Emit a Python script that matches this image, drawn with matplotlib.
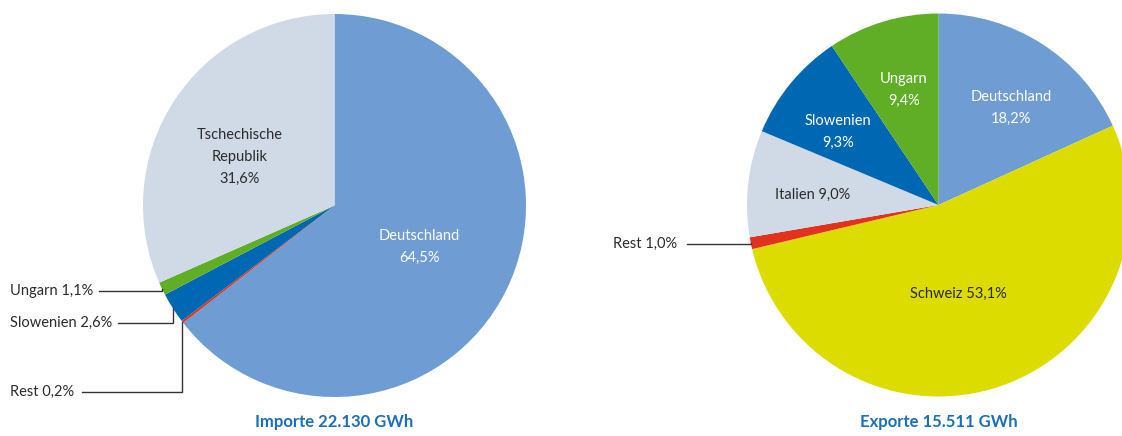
import numpy as np
import matplotlib
matplotlib.use("Agg")
import matplotlib.pyplot as plt

plt.rcParams['font.family'] = ['Lato', 'DejaVu Sans']

# Importe (Anteile in %), im Uhrzeigersinn ab 12 Uhr
imp_labels = ["Deutschland", "Rest", "Slowenien", "Ungarn", "Tschechische Republik"]
imp_values = [64.5, 0.2, 2.6, 1.1, 31.6]
imp_title = "Importe 22.130 GWh"

# Exporte (Anteile in %), im Uhrzeigersinn ab 12 Uhr
exp_labels = ["Deutschland", "Schweiz", "Rest", "Italien", "Slowenien", "Ungarn"]
exp_values = [18.2, 53.1, 1.0, 9.0, 9.3, 9.4]
exp_title = "Exporte 15.511 GWh"

COLORS = {
    "Deutschland": "#6f9dd3",
    "Tschechische Republik": "#d0dae6",
    "Italien": "#d0dae6",
    "Ungarn": "#5fae26",
    "Slowenien": "#0068b3",
    "Rest": "#e2321e",
    "Schweiz": "#dcdc00",
}
DARK = "#2b2b2b"
TITLE_BLUE = "#1a70b8"
FS = 10.5
LS = 1.72

W, H = 1122, 436
R = 191.5
fig = plt.figure(figsize=(W / 100, H / 100), dpi=100)


def fmt(v):
    return f"{v:.1f}".replace(".", ",") + "%"


def make_axes(cx, cy):
    ax = fig.add_axes([(cx - R) / W, (H - cy - R) / H, 2 * R / W, 2 * R / H])
    ax.set_xlim(-1, 1)
    ax.set_ylim(-1, 1)
    ax.axis("off")
    return ax


def px(ax_center, x, y):
    cx, cy = ax_center
    return (x - cx) / R, (cy - y) / R


def draw_pie(ax, labels, values):
    wedges, _ = ax.pie(values, colors=[COLORS[l] for l in labels], startangle=90,
                       counterclock=False, radius=1, center=(0, 0),
                       wedgeprops=dict(linewidth=0))
    ax.set_xlim(-1, 1)
    ax.set_ylim(-1, 1)
    return wedges


def mid_point(w):
    a = np.deg2rad((w.theta1 + w.theta2) / 2)
    return np.cos(a), np.sin(a)


# ---------- Importe ----------
c1 = (334.5, 205.5)
ax1 = make_axes(*c1)
w1 = draw_pie(ax1, imp_labels, imp_values)
wmap1 = dict(zip(imp_labels, w1))
vmap1 = dict(zip(imp_labels, imp_values))

# labels inside the wedges (pixel positions)
inner1 = {"Deutschland": ((419, 247), "white", "Deutschland\n" + fmt(vmap1["Deutschland"])),
          "Tschechische Republik": ((240, 157), DARK,
                                    "Tschechische\nRepublik\n" + fmt(vmap1["Tschechische Republik"]))}
for name, ((x, y), col, txt) in inner1.items():
    ax1.text(*px(c1, x, y), txt, color=col, fontsize=FS, ha="center", va="center",
             linespacing=LS, clip_on=False)

# outside labels with leader lines: (text x, y, line start x)
outer1 = {"Ungarn": (10, 291, 99), "Slowenien": (10, 323, 118), "Rest": (10, 392, 82)}
for name, (tx, ty, lx) in outer1.items():
    ax1.text(*px(c1, tx, ty), f"{name} {fmt(vmap1[name])}", color=DARK, fontsize=FS,
             ha="left", va="center", clip_on=False)
    mx, my = mid_point(wmap1[name])
    sx, sy = px(c1, lx, ty)
    ax1.plot([sx, mx, mx], [sy, sy, my], color="#333333", lw=1.0, clip_on=False,
             solid_joinstyle="miter")

ax1.text(*px(c1, 334.5, 422), imp_title, color=TITLE_BLUE, fontsize=12, fontweight="bold",
         ha="center", va="center", clip_on=False)

# ---------- Exporte ----------
c2 = (938.5, 205.0)
ax2 = make_axes(*c2)
w2 = draw_pie(ax2, exp_labels, exp_values)
wmap2 = dict(zip(exp_labels, w2))
vmap2 = dict(zip(exp_labels, exp_values))

inner2 = {"Deutschland": ((1011, 108), "white", "Deutschland\n" + fmt(vmap2["Deutschland"])),
          "Ungarn": ((904, 90), "white", "Ungarn\n" + fmt(vmap2["Ungarn"])),
          "Slowenien": ((838, 132), "white", "Slowenien\n" + fmt(vmap2["Slowenien"])),
          "Italien": ((813, 195), DARK, "Italien " + fmt(vmap2["Italien"])),
          "Schweiz": ((958, 294), DARK, "Schweiz " + fmt(vmap2["Schweiz"]))}
for name, ((x, y), col, txt) in inner2.items():
    ax2.text(*px(c2, x, y), txt, color=col, fontsize=FS, ha="center", va="center",
             linespacing=LS, clip_on=False)

outer2 = {"Rest": (613, 244, 687)}
for name, (tx, ty, lx) in outer2.items():
    ax2.text(*px(c2, tx, ty), f"{name} {fmt(vmap2[name])}", color=DARK, fontsize=FS,
             ha="left", va="center", clip_on=False)
    mx, my = mid_point(wmap2[name])
    sx, sy = px(c2, lx, ty)
    ax2.plot([sx, mx, mx], [sy, sy, my], color="#333333", lw=1.0, clip_on=False,
             solid_joinstyle="miter")

ax2.text(*px(c2, 938.5, 422), exp_title, color=TITLE_BLUE, fontsize=12, fontweight="bold",
         ha="center", va="center", clip_on=False)

fig.savefig("out.png", dpi=100, facecolor="white")
